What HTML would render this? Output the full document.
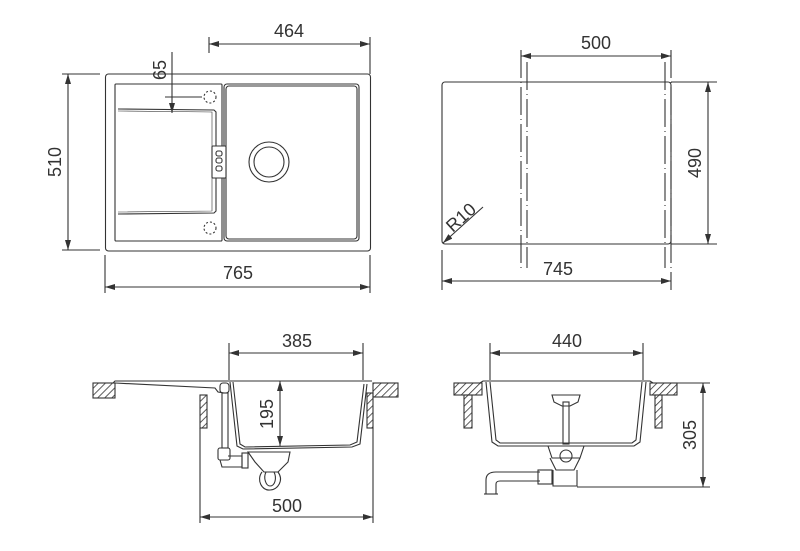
<!DOCTYPE html>
<html><head><style>body{margin:0;background:#fff}svg{display:block}text{font-family:"Liberation Sans",Arial,sans-serif;font-size:18px;fill:#333}</style></head>
<body>
<svg width="800" height="551" viewBox="0 0 800 551" xmlns="http://www.w3.org/2000/svg">
<defs>
<pattern id="h" width="5" height="5" patternUnits="userSpaceOnUse" patternTransform="rotate(45)"><line x1="0" y1="0" x2="0" y2="5" stroke="#333" stroke-width="1.6"/></pattern>
<marker id="a" viewBox="0 0 10 6" refX="10" refY="3" markerWidth="10" markerHeight="6" orient="auto-start-reverse" markerUnits="userSpaceOnUse"><path d="M0,0L10,3L0,6z" fill="#333"/></marker>
</defs>
<g fill="none" stroke="#333" stroke-width="1.1">
<rect x="105.5" y="74" width="265" height="177" rx="3"/>
<rect x="115" y="84" width="107" height="157" rx="1"/>
<rect x="224" y="84" width="135" height="157" rx="3"/>
<rect x="226" y="86" width="131" height="153" rx="3"/>
<path d="M118,109 L214,110 L216,112 L216,211 L214,213 L118,214"/>
<path d="M118,111 L212,112 L212,211 L118,212" stroke-width="0.6"/>
<circle cx="269" cy="162" r="20"/><circle cx="269" cy="162" r="15"/>
<rect x="212" y="146" width="14" height="32" rx="1" fill="#fff"/>
<rect x="216" y="151" width="6" height="5" rx="2"/><rect x="216" y="158" width="6" height="5" rx="2"/><rect x="216" y="166" width="6" height="5" rx="2"/>
<circle cx="210" cy="97" r="6" stroke-dasharray="2 2"/><circle cx="210" cy="228" r="6" stroke-dasharray="2 2"/>
<line x1="172" y1="52" x2="172" y2="113" marker-end="url(#a)"/>
<line x1="165" y1="97" x2="202" y2="97"/>
<line x1="209" y1="37" x2="209" y2="53"/><line x1="370" y1="37" x2="370" y2="74"/>
<line x1="209" y1="44" x2="370" y2="44" marker-start="url(#a)" marker-end="url(#a)"/>
<line x1="62" y1="74" x2="100" y2="74"/><line x1="62" y1="250" x2="100" y2="250"/>
<line x1="68" y1="74" x2="68" y2="250" marker-start="url(#a)" marker-end="url(#a)"/>
<line x1="105" y1="255" x2="105" y2="293"/><line x1="370" y1="255" x2="370" y2="293"/>
<line x1="105" y1="287" x2="370" y2="287" marker-start="url(#a)" marker-end="url(#a)"/>
<rect x="442" y="82" width="229" height="162" rx="3"/>
<g stroke-dasharray="28 4 1 4"><line x1="521" y1="50" x2="521" y2="268"/><line x1="527" y1="62" x2="527" y2="268"/><line x1="665" y1="62" x2="665" y2="268"/><line x1="671" y1="50" x2="671" y2="290"/></g>
<line x1="521" y1="56" x2="671" y2="56" marker-start="url(#a)" marker-end="url(#a)"/>
<line x1="671" y1="82" x2="717" y2="82"/><line x1="671" y1="244" x2="717" y2="244"/>
<line x1="708" y1="82" x2="708" y2="244" marker-start="url(#a)" marker-end="url(#a)"/>
<line x1="442" y1="250" x2="442" y2="290"/>
<line x1="442" y1="281" x2="671" y2="281" marker-start="url(#a)" marker-end="url(#a)"/>
<line x1="483" y1="207" x2="443" y2="243" marker-end="url(#a)"/>
<path d="M113,383 L115,381 L372,381"/>
<path d="M115,383 L215,388 L218,392 L224,393"/>
<path d="M230,382 L237,446 L243,449 L352,447 L360,444 L367,384"/>
<path d="M233,382 L240,444 L245,447 L350,445 L357,442 L364,384"/>
<rect x="93" y="383" width="22" height="15" fill="url(#h)"/>
<rect x="373" y="383" width="25" height="14" fill="url(#h)"/>
<rect x="200" y="395" width="7" height="33" fill="url(#h)"/>
<rect x="367" y="393" width="6" height="35" fill="url(#h)"/>
<rect x="220" y="383" width="9" height="10" rx="3"/>
<rect x="222" y="393" width="6" height="55"/>
<rect x="218" y="448" width="12" height="12" rx="2"/>
<path d="M220,460 L222,467 L242,467 L242,456 L228,456"/>
<rect x="242" y="453" width="6" height="15"/>
<path d="M248,452 L290,452 L288,462 L278,472 L264,472 L255,462 Z"/>
<path d="M262,472 C256,480 262,491 270,490 C278,490 284,480 278,472"/>
<path d="M266,472 C263,478 266,486 270,486 C275,486 277,478 274,472"/>
<line x1="229" y1="343" x2="229" y2="380"/><line x1="363" y1="343" x2="363" y2="380"/>
<line x1="229" y1="353" x2="363" y2="353" marker-start="url(#a)" marker-end="url(#a)"/>
<line x1="280" y1="381" x2="280" y2="446" marker-start="url(#a)" marker-end="url(#a)"/>
<line x1="200" y1="428" x2="200" y2="523"/><line x1="373" y1="428" x2="373" y2="523"/>
<line x1="200" y1="517" x2="373" y2="517" marker-start="url(#a)" marker-end="url(#a)"/>
<path d="M480,383 L483,381 L650,381 L653,383"/>
<path d="M486,382 L492,442 L498,446 L634,446 L640,442 L646,382"/>
<path d="M490,382 L496,440 L500,443 L632,443 L636,440 L642,382"/>
<rect x="454" y="383" width="28" height="12" fill="url(#h)"/>
<rect x="464" y="395" width="8" height="33" fill="url(#h)"/>
<rect x="650" y="383" width="27" height="12" fill="url(#h)"/>
<rect x="655" y="395" width="7" height="33" fill="url(#h)"/>
<path d="M552,395 L580,395 L578,402 L570,406 L562,406 L554,402 Z"/>
<rect x="563" y="402" width="6" height="42"/>
<path d="M548,446 L584,446 L580,458 L552,458 Z"/>
<circle cx="566" cy="456" r="6"/>
<path d="M550,458 L556,470 L574,470 L580,458"/>
<path d="M553,470 L553,486 L577,486 L577,470"/>
<path d="M486,494 L486,480 C486,474 490,472 496,472 L540,472"/>
<path d="M496,494 L496,484 C496,482 498,481 500,481 L540,481"/>
<line x1="484" y1="494" x2="498" y2="494"/>
<rect x="538" y="470" width="14" height="14"/>
<line x1="490" y1="343" x2="490" y2="380"/><line x1="643" y1="343" x2="643" y2="380"/>
<line x1="490" y1="353" x2="643" y2="353" marker-start="url(#a)" marker-end="url(#a)"/>
<line x1="677" y1="383" x2="710" y2="383"/><line x1="577" y1="487" x2="710" y2="487"/>
<line x1="703" y1="383" x2="703" y2="487" marker-start="url(#a)" marker-end="url(#a)"/>
</g>
<text x="289" y="37" text-anchor="middle">464</text>
<text transform="translate(166,70) rotate(-90)" text-anchor="middle">65</text>
<text transform="translate(61,162) rotate(-90)" text-anchor="middle">510</text>
<text x="238" y="279" text-anchor="middle">765</text>
<text x="596" y="49" text-anchor="middle">500</text>
<text transform="translate(701,163) rotate(-90)" text-anchor="middle">490</text>
<text x="558" y="275" text-anchor="middle">745</text>
<text transform="translate(465,222) rotate(-42)" text-anchor="middle">R10</text>
<text x="297" y="347" text-anchor="middle">385</text>
<text transform="translate(273,414) rotate(-90)" text-anchor="middle">195</text>
<text x="287" y="512" text-anchor="middle">500</text>
<text x="567" y="347" text-anchor="middle">440</text>
<text transform="translate(696,435) rotate(-90)" text-anchor="middle">305</text>
</svg>
</body></html>
